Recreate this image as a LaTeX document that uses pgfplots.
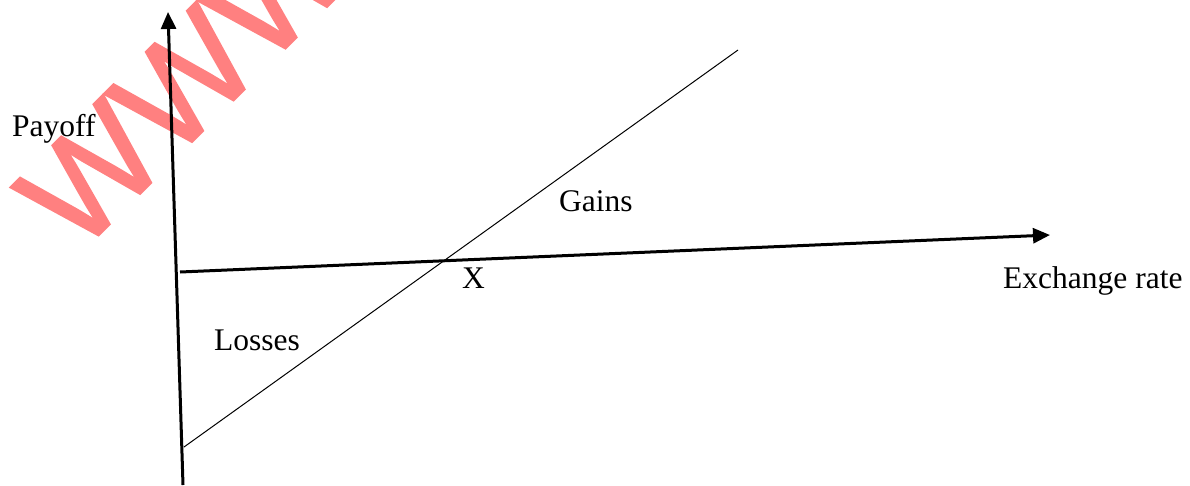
\documentclass[border=0pt]{standalone}
\usepackage{pgfplots}
\pgfplotsset{compat=1.18}
\usepackage{fontspec}
\setmainfont{Liberation Serif}
\newfontfamily\wmfont[FakeBold=1.5]{Liberation Sans}
\usetikzlibrary{arrows.meta}
\definecolor{wmred}{RGB}{255,128,128}
\begin{document}
\begin{tikzpicture}
\begin{axis}[
  width=1190pt, height=485pt, scale only axis,
  xmin=0, xmax=1190, ymin=0, ymax=485, y dir=reverse,
  hide axis, clip=false,
]
% watermark
\begin{scope}
\clip (axis cs:0,0) rectangle (axis cs:1190,485);
\node[anchor=base west, rotate=45, inner sep=0pt, text=wmred,
      font=\wmfont\fontsize{140}{140}\selectfont]
  at (axis cs:78,256) {WWW.};
\end{scope}
% axes
\addplot[black, line width=3pt, -{Triangle[length=17pt,width=15pt]}]
  coordinates {(183,485) (168,12)};
\addplot[black, line width=3pt, -{Triangle[length=17pt,width=15pt]}]
  coordinates {(180,272) (1050,235)};
% payoff line
\addplot[black, line width=1pt] coordinates {(184,447) (738,50)};
% labels
\begin{scope}[font=\fontsize{31.5}{36}\selectfont, inner sep=0pt]
\node[anchor=base west] at (axis cs:12,136) {Payoff};
\node[anchor=base west] at (axis cs:559,211) {Gains};
\node[anchor=base west] at (axis cs:462,288) {X};
\node[anchor=base west] at (axis cs:214,350) {Losses};
\node[anchor=base west] at (axis cs:1003,288) {Exchange rate};
\end{scope}
\end{axis}
\pgfresetboundingbox
\useasboundingbox (current axis.south west) rectangle (current axis.north east);
\end{tikzpicture}
\end{document}
